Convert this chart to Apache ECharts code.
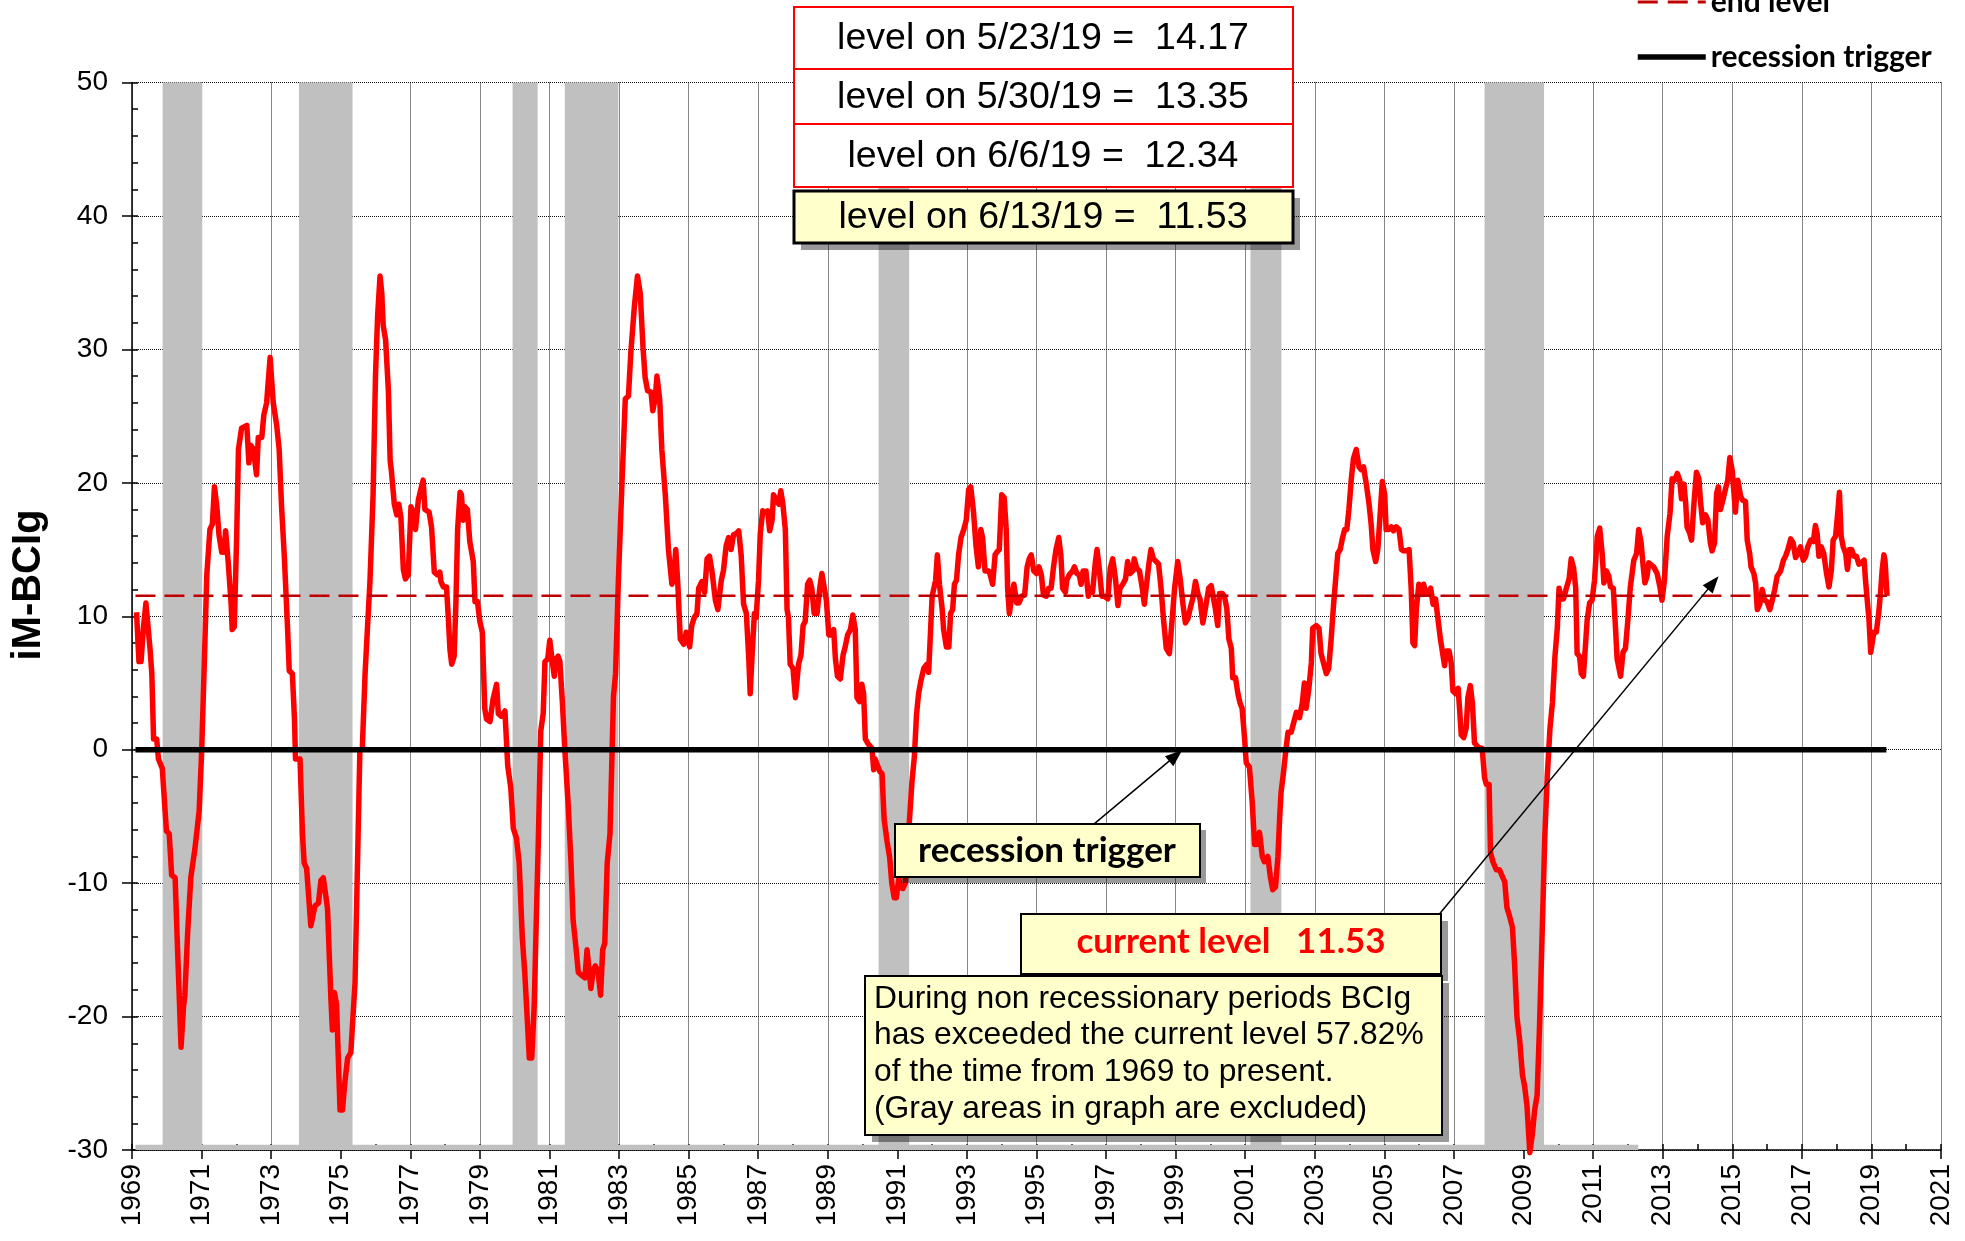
<!DOCTYPE html>
<html><head><meta charset="utf-8">
<script src="https://cdn.jsdelivr.net/npm/echarts@6/dist/echarts.min.js"></script>
<style>html,body{margin:0;padding:0;background:#fff}#chart{width:1965px;height:1241px}</style>
</head><body><div id="chart"></div>
<script>
// ---- data (decimal year, iM-BCIg level) ----
const bcig1969_1982 = [[1969.13,10.3],[1969.20,6.6],[1969.26,6.6],[1969.33,9.2],[1969.40,11.0],[1969.44,10.9],[1969.52,7.5],[1969.57,5.7],[1969.62,0.8],[1969.71,0.8],[1969.76,-0.7],[1969.87,-1.4],[1969.99,-6.1],[1970.07,-6.3],[1970.14,-9.4],[1970.24,-9.6],[1970.31,-15.0],[1970.41,-22.3],[1970.48,-19.3],[1970.52,-18.4],[1970.60,-13.7],[1970.69,-9.6],[1970.81,-7.4],[1970.93,-4.6],[1971.00,-0.3],[1971.08,6.6],[1971.15,13.1],[1971.24,16.5],[1971.31,16.9],[1971.37,19.7],[1971.44,18.2],[1971.50,16.1],[1971.58,14.8],[1971.65,14.8],[1971.69,16.4],[1971.77,13.9],[1971.85,10.9],[1971.88,9.0],[1971.94,9.2],[1972.01,16.1],[1972.06,22.5],[1972.15,24.1],[1972.30,24.3],[1972.36,21.5],[1972.42,22.8],[1972.49,22.5],[1972.58,20.6],[1972.63,23.4],[1972.73,23.4],[1972.79,25.1],[1972.87,26.0],[1972.97,29.4],[1973.06,26.0],[1973.16,24.3],[1973.23,22.5],[1973.30,18.2],[1973.38,14.4],[1973.47,9.2],[1973.52,5.9],[1973.61,5.7],[1973.67,2.3],[1973.70,-0.7],[1973.83,-0.7],[1973.90,-6.3],[1973.95,-8.5],[1974.02,-8.9],[1974.14,-13.2],[1974.18,-13.2],[1974.26,-11.7],[1974.36,-11.5],[1974.43,-9.8],[1974.50,-9.6],[1974.62,-11.9],[1974.72,-18.8],[1974.76,-21.0],[1974.82,-18.2],[1974.88,-19.1],[1974.98,-27.0],[1975.05,-27.0],[1975.12,-24.9],[1975.20,-23.1],[1975.29,-22.7],[1975.41,-17.5],[1975.50,-6.3],[1975.55,-0.1],[1975.62,0.1],[1975.70,5.7],[1975.77,9.2],[1975.84,12.6],[1975.93,19.1],[1976.00,28.1],[1976.06,32.5],[1976.13,35.5],[1976.18,34.2],[1976.22,31.8],[1976.29,30.7],[1976.37,26.9],[1976.42,21.7],[1976.46,20.8],[1976.54,18.4],[1976.61,17.6],[1976.67,18.4],[1976.73,17.4],[1976.80,13.5],[1976.86,12.8],[1976.94,13.1],[1977.02,18.2],[1977.09,17.8],[1977.15,16.5],[1977.23,18.7],[1977.32,19.7],[1977.37,20.2],[1977.42,18.0],[1977.54,17.8],[1977.61,16.7],[1977.69,13.3],[1977.78,13.1],[1977.85,13.3],[1977.88,12.6],[1977.95,12.2],[1978.04,12.2],[1978.09,10.0],[1978.14,7.5],[1978.19,6.4],[1978.26,7.0],[1978.31,10.9],[1978.36,16.5],[1978.43,19.3],[1978.47,19.1],[1978.52,17.2],[1978.57,18.2],[1978.64,18.0],[1978.71,15.6],[1978.81,14.1],[1978.86,11.1],[1978.93,11.1],[1979.00,9.6],[1979.07,8.8],[1979.14,3.1],[1979.19,2.3],[1979.29,2.1],[1979.38,3.8],[1979.48,4.9],[1979.53,2.7],[1979.62,2.5],[1979.72,2.9],[1979.80,-1.2],[1979.89,-2.9],[1979.96,-5.9],[1980.05,-6.6],[1980.13,-8.5],[1980.22,-14.1],[1980.29,-16.7],[1980.37,-20.6],[1980.42,-23.1],[1980.49,-23.1],[1980.56,-19.3],[1980.63,-11.9],[1980.68,-6.8],[1980.75,1.4],[1980.82,2.7],[1980.87,6.6],[1980.95,6.8],[1981.01,8.2],[1981.08,6.6],[1981.14,5.5],[1981.19,6.8],[1981.25,7.0],[1981.30,6.6],[1981.37,3.6],[1981.44,0.1],[1981.54,-4.2],[1981.62,-8.5],[1981.68,-12.8],[1981.75,-14.5],[1981.83,-16.7],[1981.92,-16.9],[1982.02,-17.1],[1982.08,-15.0],[1982.13,-15.0],[1982.19,-17.9],[1982.26,-16.5],[1982.32,-16.2],[1982.40,-16.7],[1982.47,-18.4],[1982.53,-15.0],[1982.59,-14.5],[1982.66,-8.5],[1982.74,-6.3],[1982.79,-1.2],[1982.84,4.0],[1982.90,5.7],[1982.98,12.6]];
const bcig1983_1996 = [[1983.08,19.7],[1983.18,26.3],[1983.27,26.5],[1983.34,29.8],[1983.44,33.2],[1983.53,35.5],[1983.61,34.2],[1983.69,30.1],[1983.75,27.9],[1983.82,26.9],[1983.92,26.8],[1983.97,25.4],[1984.04,26.3],[1984.09,28.0],[1984.17,26.2],[1984.23,22.5],[1984.33,19.1],[1984.42,15.0],[1984.52,12.4],[1984.57,12.7],[1984.63,15.0],[1984.69,12.4],[1984.76,8.3],[1984.86,7.9],[1984.93,8.8],[1985.03,7.7],[1985.09,9.3],[1985.16,9.9],[1985.24,10.2],[1985.29,12.1],[1985.38,12.6],[1985.46,11.8],[1985.53,14.3],[1985.60,14.5],[1985.67,13.4],[1985.77,11.2],[1985.84,10.5],[1985.94,12.7],[1986.00,13.4],[1986.08,15.3],[1986.15,15.9],[1986.22,15.0],[1986.29,16.1],[1986.37,16.2],[1986.44,16.4],[1986.51,14.6],[1986.58,10.9],[1986.66,10.2],[1986.73,6.8],[1986.77,4.2],[1986.82,6.8],[1986.89,10.2],[1986.94,9.9],[1987.01,12.7],[1987.06,16.2],[1987.13,17.9],[1987.20,17.8],[1987.27,17.9],[1987.33,16.4],[1987.40,17.2],[1987.44,19.1],[1987.52,18.7],[1987.59,18.4],[1987.65,19.4],[1987.71,18.4],[1987.78,16.5],[1987.83,10.5],[1987.87,9.9],[1987.92,6.4],[1988.00,6.1],[1988.07,3.9],[1988.11,3.9],[1988.16,6.4],[1988.23,7.1],[1988.29,9.3],[1988.35,9.6],[1988.42,12.4],[1988.48,12.7],[1988.54,12.1],[1988.61,10.2],[1988.69,10.2],[1988.77,12.1],[1988.83,13.2],[1988.90,12.1],[1988.96,11.2],[1989.03,8.6],[1989.10,8.6],[1989.17,9.0],[1989.22,6.8],[1989.28,5.5],[1989.36,5.3],[1989.44,7.1],[1989.50,7.7],[1989.57,8.6],[1989.65,9.0],[1989.72,10.1],[1989.79,9.0],[1989.84,3.9],[1989.91,3.6],[1989.98,4.9],[1990.03,4.2],[1990.08,0.8],[1990.17,0.4],[1990.27,0.1],[1990.32,-1.5],[1990.36,-0.7],[1990.41,-0.8],[1990.49,-1.6],[1990.56,-1.8],[1990.62,-5.2],[1990.70,-6.8],[1990.78,-8.1],[1990.84,-10.0],[1990.91,-11.1],[1990.97,-11.1],[1991.04,-9.7],[1991.08,-10.3],[1991.16,-10.4],[1991.23,-10.0],[1991.28,-7.4],[1991.34,-5.6],[1991.42,-2.4],[1991.49,-0.5],[1991.55,2.6],[1991.61,4.2],[1991.68,5.2],[1991.76,6.1],[1991.85,6.4],[1991.90,5.8],[1991.95,5.8],[1992.00,11.5],[1992.05,11.5],[1992.10,12.7],[1992.15,14.6],[1992.21,12.4],[1992.29,10.5],[1992.33,9.0],[1992.41,7.7],[1992.48,7.7],[1992.53,10.2],[1992.59,10.5],[1992.64,12.4],[1992.70,12.7],[1992.76,14.6],[1992.83,15.9],[1992.91,16.5],[1992.98,17.2],[1993.05,19.5],[1993.11,19.7],[1993.19,17.8],[1993.26,15.3],[1993.33,13.7],[1993.40,16.5],[1993.45,15.9],[1993.52,13.4],[1993.62,13.4],[1993.66,13.2],[1993.74,12.4],[1993.81,14.6],[1993.86,14.8],[1993.93,15.0],[1994.00,19.1],[1994.07,18.9],[1994.13,16.5],[1994.17,12.1],[1994.22,10.2],[1994.29,11.5],[1994.35,12.4],[1994.43,11.0],[1994.50,11.0],[1994.57,11.5],[1994.66,11.6],[1994.73,13.7],[1994.79,14.3],[1994.85,14.6],[1994.92,13.4],[1995.00,13.2],[1995.07,13.7],[1995.14,13.1],[1995.20,11.6],[1995.28,11.5],[1995.35,12.1],[1995.42,12.1],[1995.49,13.7],[1995.56,15.0],[1995.64,15.9],[1995.70,14.6],[1995.75,12.1],[1995.83,11.8],[1995.87,12.7],[1995.94,13.1],[1996.04,13.4],[1996.09,13.7],[1996.16,13.2],[1996.23,13.1],[1996.28,12.4],[1996.34,13.4],[1996.42,13.4],[1996.49,11.5],[1996.54,12.1],[1996.61,11.8],[1996.69,14.0],[1996.74,15.0],[1996.80,13.7],[1996.88,11.5],[1996.95,11.5]];
const bcig1997_2010 = [[1997.05,11.3],[1997.12,13.6],[1997.19,14.3],[1997.27,12.8],[1997.34,10.8],[1997.40,12.1],[1997.48,12.4],[1997.56,12.8],[1997.62,14.1],[1997.69,13.2],[1997.77,13.4],[1997.81,14.3],[1997.88,13.6],[1997.96,13.4],[1998.04,12.1],[1998.10,10.9],[1998.15,12.1],[1998.23,13.9],[1998.29,15.0],[1998.36,14.3],[1998.44,14.1],[1998.51,13.9],[1998.58,12.1],[1998.65,9.8],[1998.73,7.6],[1998.82,7.2],[1998.90,9.8],[1998.97,12.1],[1999.06,14.1],[1999.13,12.8],[1999.21,10.9],[1999.28,9.5],[1999.35,9.8],[1999.42,10.6],[1999.49,11.3],[1999.57,12.6],[1999.64,11.7],[1999.70,11.3],[1999.78,9.5],[1999.83,10.2],[1999.90,11.3],[1999.95,12.1],[2000.02,12.3],[2000.09,11.3],[2000.14,10.6],[2000.21,9.3],[2000.26,11.7],[2000.34,11.7],[2000.40,11.5],[2000.47,10.6],[2000.53,8.3],[2000.60,7.6],[2000.64,5.4],[2000.72,5.4],[2000.79,4.2],[2000.85,3.5],[2000.91,3.1],[2000.98,0.9],[2001.03,-1.0],[2001.12,-1.3],[2001.20,-3.9],[2001.27,-7.1],[2001.33,-7.1],[2001.41,-6.2],[2001.49,-8.0],[2001.55,-8.4],[2001.65,-8.0],[2001.72,-9.5],[2001.79,-10.5],[2001.87,-10.3],[2001.94,-8.0],[2001.99,-5.1],[2002.03,-3.2],[2002.10,-1.7],[2002.16,-0.2],[2002.23,1.3],[2002.32,1.3],[2002.39,2.0],[2002.47,2.8],[2002.56,2.4],[2002.64,3.5],[2002.70,5.0],[2002.75,3.1],[2002.83,4.6],[2002.90,6.5],[2002.94,9.1],[2003.04,9.3],[2003.12,9.1],[2003.18,7.2],[2003.25,6.5],[2003.33,5.7],[2003.40,6.1],[2003.47,8.3],[2003.54,10.9],[2003.60,12.8],[2003.66,14.7],[2003.73,15.0],[2003.79,15.8],[2003.86,16.5],[2003.92,16.5],[2003.98,18.0],[2004.05,20.3],[2004.11,21.8],[2004.19,22.5],[2004.27,21.2],[2004.33,21.0],[2004.40,21.2],[2004.48,19.9],[2004.56,18.4],[2004.62,16.9],[2004.67,15.0],[2004.75,14.1],[2004.81,15.0],[2004.88,17.7],[2004.94,20.1],[2005.01,19.1],[2005.05,16.5],[2005.13,16.5],[2005.20,16.7],[2005.26,16.4],[2005.34,16.7],[2005.42,16.5],[2005.49,15.0],[2005.55,14.9],[2005.63,14.9],[2005.71,15.0],[2005.77,12.1],[2005.82,8.0],[2005.87,7.8],[2005.92,10.6],[2005.99,12.4],[2006.06,11.7],[2006.13,12.4],[2006.19,11.7],[2006.25,11.7],[2006.33,12.1],[2006.40,10.9],[2006.47,11.3],[2006.54,9.8],[2006.61,8.3],[2006.66,8.2],[2006.73,6.3],[2006.78,7.4],[2006.86,7.4],[2006.92,6.5],[2006.97,4.4],[2007.05,4.2],[2007.12,4.6],[2007.16,3.1],[2007.21,1.1],[2007.28,0.9],[2007.35,1.6],[2007.40,3.9],[2007.47,4.8],[2007.53,3.5],[2007.59,0.5],[2007.66,0.3],[2007.74,0.1],[2007.81,0.1],[2007.88,-2.1],[2007.93,-2.6],[2008.01,-2.6],[2008.05,-7.7],[2008.12,-8.4],[2008.22,-9.0],[2008.31,-9.0],[2008.39,-9.5],[2008.46,-9.9],[2008.52,-11.8],[2008.60,-12.5],[2008.68,-13.3],[2008.74,-15.9],[2008.81,-20.0],[2008.89,-21.8],[2008.97,-24.4],[2009.03,-25.2],[2009.10,-26.7],[2009.18,-30.2],[2009.25,-28.9],[2009.32,-27.0],[2009.39,-25.9],[2009.46,-20.7],[2009.54,-13.3],[2009.61,-6.6],[2009.68,-2.1],[2009.76,1.6],[2009.83,3.5],[2009.90,6.9],[2009.97,9.1],[2010.02,12.1],[2010.09,11.3],[2010.15,11.3],[2010.23,12.1],[2010.31,12.8],[2010.37,14.3],[2010.44,13.6],[2010.50,12.1],[2010.54,7.2],[2010.61,7.0],[2010.66,5.7],[2010.72,5.5]];
const bcig2010_2019 = [[2010.83,9.75],[2010.90,11.0],[2010.97,11.2],[2011.04,12.7],[2011.12,16.0],[2011.19,16.6],[2011.26,14.7],[2011.31,12.5],[2011.38,13.4],[2011.45,13.0],[2011.50,12.2],[2011.58,12.1],[2011.64,9.3],[2011.69,6.8],[2011.79,5.5],[2011.86,7.3],[2011.93,7.6],[2012.00,9.75],[2012.07,12.2],[2012.17,14.2],[2012.25,14.7],[2012.31,16.5],[2012.38,15.5],[2012.44,13.7],[2012.49,12.5],[2012.55,13.0],[2012.60,14.0],[2012.65,13.9],[2012.74,13.7],[2012.84,13.2],[2012.92,12.2],[2012.98,11.2],[2013.05,12.7],[2013.13,16.0],[2013.21,17.7],[2013.27,20.3],[2013.34,20.2],[2013.42,20.7],[2013.49,20.2],[2013.54,18.8],[2013.61,19.9],[2013.66,18.5],[2013.70,16.7],[2013.78,16.2],[2013.83,15.7],[2013.90,18.5],[2013.97,20.8],[2014.04,20.3],[2014.09,18.5],[2014.15,17.0],[2014.23,17.6],[2014.30,17.2],[2014.37,15.5],[2014.42,14.9],[2014.49,15.5],[2014.55,19.2],[2014.60,19.7],[2014.66,18.0],[2014.74,18.8],[2014.81,19.6],[2014.87,20.2],[2014.93,21.9],[2015.00,20.9],[2015.05,19.2],[2015.09,17.8],[2015.16,20.2],[2015.24,19.0],[2015.30,18.7],[2015.38,18.6],[2015.43,15.7],[2015.50,14.7],[2015.54,13.7],[2015.62,13.2],[2015.67,12.5],[2015.72,10.5],[2015.79,10.9],[2015.86,12.0],[2015.93,11.2],[2016.00,11.1],[2016.08,10.5],[2016.15,11.2],[2016.22,12.0],[2016.29,13.0],[2016.39,13.4],[2016.47,14.2],[2016.53,14.5],[2016.60,15.0],[2016.68,15.8],[2016.75,15.5],[2016.82,14.4],[2016.89,14.7],[2016.96,15.2],[2017.04,14.2],[2017.11,14.5],[2017.17,15.2],[2017.25,15.7],[2017.33,15.6],[2017.39,16.8],[2017.44,16.2],[2017.49,14.5],[2017.56,15.2],[2017.63,14.7],[2017.71,13.2],[2017.78,12.2],[2017.85,13.5],[2017.90,15.7],[2017.97,16.0],[2018.04,18.0],[2018.08,19.3],[2018.13,16.0],[2018.19,15.2],[2018.26,14.7],[2018.31,13.5],[2018.37,15.0],[2018.43,15.0],[2018.50,14.5],[2018.57,14.5],[2018.64,13.9],[2018.71,14.0],[2018.79,14.2],[2018.83,12.7],[2018.88,11.2],[2018.93,9.75],[2018.98,7.3],[2019.02,7.3],[2019.07,8.8],[2019.14,8.8],[2019.21,10.25],[2019.26,11.7],[2019.31,13.5],[2019.36,14.6],[2019.39,14.17],[2019.41,13.35],[2019.43,12.34],[2019.45,11.53]];

// recession periods (start, end), decimal years
const recessions = [[1969.88,1971.02],[1973.80,1975.34],[1979.94,1980.66],[1981.44,1982.98],[1990.46,1991.34],[2001.15,2002.04],[2007.88,2009.59]];
const endLevel = 11.53;
const triggerLevel = 0;
const lineSpan = [1969.10, 2019.45];
const xTickLabels = ['1969','1971','1973','1975','1977','1979','1981','1983','1985','1987','1989','1991','1993','1995','1997','1999','2001','2003','2005','2007','2009','2011','2013','2015','2017','2019','2021'];
const yTickLabels = ['-30','-20','-10','0','10','20','30','40','50'];
const recentLevels = [['5/23/19','14.17'],['5/30/19','13.35'],['6/6/19','12.34'],['6/13/19','11.53']];

const bcig = bcig1969_1982.concat(bcig1983_1996, bcig1997_2010, bcig2010_2019);

const chart = echarts.init(document.getElementById('chart'), null, {renderer:'canvas'});
const AR = '"Liberation Sans", Arial, sans-serif';
const CAL = 'Lato, "Open Sans", sans-serif';

function box(x, y, w, h, fill, stroke, lw, shadow) {
  const els = [];
  if (shadow) els.push({type:'rect', z:100, shape:{x:x+shadow, y:y+shadow, width:w, height:h}, style:{fill:'rgba(0,0,0,0.4)'}});
  els.push({type:'rect', z:101, shape:{x:x, y:y, width:w, height:h}, style:{fill:fill, stroke:stroke, lineWidth:lw}});
  return els;
}
function txt(t, x, y, font, fill, align) {
  return {type:'text', z:102, style:{text:t, x:x, y:y, font:font, fill:fill, textAlign:align||'center', textVerticalAlign:'middle', align:align||'center', verticalAlign:'middle'}};
}

const graphics = [];
// stacked level boxes
const boxTops = [7, 69, 124, 191];
const boxHs = [62, 55, 63, 52];
recentLevels.forEach((r, i) => {
  const last = i === recentLevels.length - 1;
  graphics.push(...box(794, boxTops[i], 499, boxHs[i], last ? '#ffffcc' : '#ffffff', last ? '#000' : '#ff0000', last ? 3 : 2, last ? 7 : 0));
  graphics.push(txt('level on ' + r[0] + ' =  ' + r[1], 1043, boxTops[i] + boxHs[i] / 2 + 1, '37.5px ' + AR, '#000'));
});
// recession trigger box
graphics.push(...box(895, 824, 305, 53, '#ffffcc', '#000', 2, 6));
graphics.push(txt('recession trigger', 1047, 851, 'bold 35px ' + CAL, '#000'));
// current level box
graphics.push(...box(1021, 914, 420, 60, '#ffffcc', '#000', 2, 7));
graphics.push(txt('current level   ' + endLevel.toFixed(2), 1231, 942, 'bold 35px ' + CAL, '#ff0000'));
// explanation box
graphics.push(...box(865, 976, 577, 159, '#ffffcc', '#000', 2, 7));
['During non recessionary periods BCIg', 'has exceeded the current level 57.82%', 'of the time from 1969 to present.', '(Gray areas in graph are excluded)']
  .forEach((l, i) => graphics.push(txt(l, 874, 999 + i * 36.7, '31.8px ' + AR, '#000', 'left')));
// y axis title
graphics.push({type:'text', z:102, x:29, y:585, rotation:Math.PI/2, style:{text:'iM-BCIg', x:0, y:0, font:'bold 40px ' + AR, fill:'#000', textAlign:'center', textVerticalAlign:'middle', align:'center', verticalAlign:'middle'}});

const tickStyle = {color:'#000', width:1.5};
const hiddenSymbol = {color:'rgba(0,0,0,0)', borderWidth:0, opacity:0};
const option = {
  animation: false,
  backgroundColor: '#fff',
  grid: {left:132, right:24, top:82.5, bottom:91, show:false},
  legend: {
    orient:'vertical', left:1635, top:-13, padding:0, itemWidth:68, itemHeight:26, itemGap:25,
    selectedMode:false,
    itemStyle: hiddenSymbol,
    data:[
      {name:'end level', itemStyle:hiddenSymbol, lineStyle:{color:'#c00000', width:3, type:[20, 10]}},
      {name:'recession trigger', itemStyle:hiddenSymbol, lineStyle:{color:'#000', width:5.5}}
    ],
    textStyle:{fontFamily:CAL, fontWeight:'bold', fontSize:30, color:'#000', lineHeight:26}
  },
  xAxis: [
    {type:'value', min:1969, max:2021, interval:2,
     axisLine:{show:true, onZero:false, lineStyle:{color:'#000', width:1.5}},
     axisTick:{show:true, length:9, lineStyle:tickStyle},
     axisLabel:{rotate:90, margin:14, fontSize:28, color:'#000', fontFamily:AR, formatter:v => xTickLabels[Math.round((v - 1969) / 2)]},
     splitLine:{show:true, lineStyle:{type:'dotted', color:'#111', width:1}}},
    {type:'value', min:1969, max:2021, interval:1, position:'bottom',
     axisLine:{show:false, onZero:false}, axisTick:{show:true, inside:true, length:6, lineStyle:tickStyle},
     axisLabel:{show:false}, splitLine:{show:false}}
  ],
  yAxis: [
    {type:'value', min:-30, max:50, interval:10,
     axisLine:{show:true, onZero:false, lineStyle:{color:'#000', width:1.5}},
     axisTick:{show:true, length:10, lineStyle:tickStyle},
     axisLabel:{margin:24, fontSize:28, color:'#000', fontFamily:AR, formatter:v => yTickLabels[Math.round((v + 30) / 10)]},
     splitLine:{show:true, lineStyle:{type:'dotted', color:'#111', width:1}}},
    {type:'value', min:-30, max:50, interval:2, position:'left',
     axisLine:{show:false, onZero:false}, axisTick:{show:true, inside:true, length:6, lineStyle:tickStyle},
     axisLabel:{show:false}, splitLine:{show:false}}
  ],
  series: [
    {name:'recessions', type:'line', z:1, symbol:'none', silent:true,
     data: recessions.map(r => [r[0], -30]), lineStyle:{opacity:0},
     markArea:{silent:true, itemStyle:{color:'#c0c0c0', opacity:1},
       data: recessions.map(r => [{coord:[r[0], -30]}, {coord:[r[1], 50]}])
         .concat([[{coord:[lineSpan[0], -30.2]}, {coord:[2012.3, -29.6]}]])}},
    {name:'BCIg', type:'line', z:3, symbol:'none', clip:false, data:bcig,
     lineStyle:{color:'#ff0000', width:5.5, join:'round'}},
    {name:'end level', type:'line', z:4, symbol:'none', data:[[lineSpan[0], endLevel], [lineSpan[1], endLevel]],
     itemStyle:{color:'#c00000'}, lineStyle:{color:'#c00000', width:2.5, type:[20, 9]}},
    {name:'recession trigger', type:'line', z:5, symbol:'none', data:[[lineSpan[0], triggerLevel], [lineSpan[1] - 0.02, triggerLevel]],
     itemStyle:{color:'#000'}, lineStyle:{color:'#000', width:5.5},
     markLine:{silent:true, symbol:['none','triangle'], symbolSize:[13, 17],
       lineStyle:{color:'#000', width:1.5, type:'solid'}, label:{show:false},
       itemStyle:{color:'#000'},
       data:[[{coord:[1996.65, -5.58]}, {coord:[1999.0, -0.45]}],
             [{coord:[2006.60, -12.26]}, {coord:[2014.45, 12.5]}]]}}
  ],
  graphic: graphics
};
chart.setOption(option);
</script></body></html>
